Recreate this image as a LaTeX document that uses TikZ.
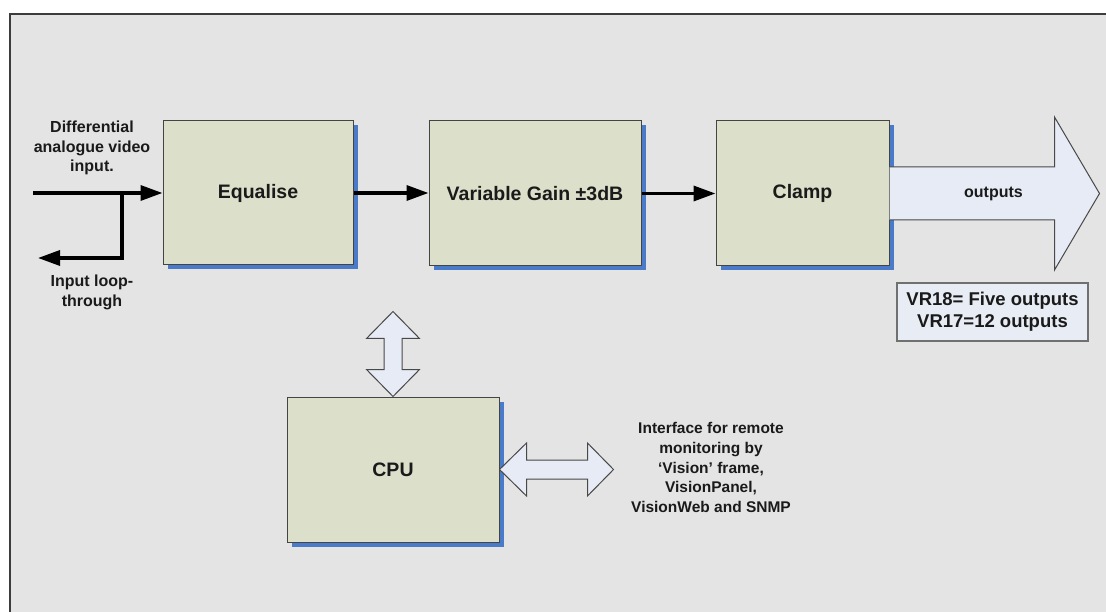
\documentclass[tikz,border=0pt]{standalone}
\usepackage{fontspec}
\setmainfont{Liberation Sans}
\usetikzlibrary{arrows.meta,shadows}
\definecolor{panel}{HTML}{E4E4E4}
\definecolor{frameline}{HTML}{3C3C3C}
\definecolor{blockfill}{HTML}{DCDFCA}
\definecolor{blockline}{HTML}{444444}
\definecolor{shadowblue}{HTML}{4A7BC9}
\definecolor{busfill}{HTML}{E6EBF5}
\definecolor{busline}{HTML}{484848}
\definecolor{notefill}{HTML}{E8ECF4}
\definecolor{noteline}{HTML}{707070}
\definecolor{ink}{HTML}{1A1A1A}
\begin{document}
\begin{tikzpicture}[x=1pt,y=-1pt,
  block/.style={draw=blockline, line width=1pt, fill=blockfill, inner sep=0pt,
    text=ink, font=\fontsize{19.5}{23}\selectfont\bfseries,
    general shadow={fill=shadowblue, shadow xshift=4.5pt, shadow yshift=-4.5pt}},
  conn/.style={line width=3.4pt, line join=miter, draw=black,
    -{Triangle[length=22pt,width=15pt]}},
  bus/.style={draw=busline, line width=1pt, fill=busfill, line join=miter},
  lbl/.style={text=ink, font=\fontsize{16}{19.5}\selectfont\bfseries, align=center, inner sep=0pt},
  note/.style={draw=noteline, line width=1.3pt, fill=notefill, inner sep=0pt,
    text=ink, font=\fontsize{18.5}{22}\selectfont\bfseries, align=center}
]
% page and grey panel
\useasboundingbox (0,0) rectangle (1106,612);
\fill[white] (0,0) rectangle (1106,612);
\fill[panel] (10,14) rectangle (1106,612);
\draw[frameline, line width=1.2pt] (1106,14) -- (10,14) -- (10,612);

% processing blocks
\node[block, minimum width=190pt, minimum height=144pt] (eq)    at (258,193)   {Equalise};
\node[block, minimum width=212pt, minimum height=145pt] (gain)  at (535,193.5) {Variable Gain ±3dB};
\node[block, minimum width=173pt, minimum height=145pt] (clamp) at (802.5,193.5) {Clamp};
\node[block, minimum width=212pt, minimum height=145pt] (cpu)   at (393,469.5) {CPU};

% signal path
\coordinate (inp)  at (33,193);
\coordinate (tap)  at (122,193);
\coordinate (loop) at (38,258);
\draw[conn] (inp) -- (eq.west);
\draw[conn] (tap) |- (loop);
\draw[conn] (eq.east) -- (gain.west |- eq.east);
\draw[conn] (gain.east) -- (clamp.west);

% output bus arrow
\filldraw[bus] (clamp.east) ++(0,-26.5) -- ++(165,0) -- ++(0,-50) -- ++(45,76.5)
  -- ++(-45,76.5) -- ++(0,-50) -- ++(-165,0);
\node[lbl] (outlbl) at ([xshift=104pt]clamp.east) {outputs};

% control buses of the CPU
\filldraw[bus] (cpu.north) -- ++(-26.5,-27) -- ++(17.5,0) -- ++(0,-31) -- ++(-17.5,0)
  -- ++(26.5,-27) -- ++(26.5,27) -- ++(-17.5,0) -- ++(0,31) -- ++(17.5,0) -- cycle;
\filldraw[bus] (cpu.east) -- ++(27,-26.5) -- ++(0,17) -- ++(61,0) -- ++(0,-17)
  -- ++(26,26.5) -- ++(-26,26.5) -- ++(0,-17) -- ++(-61,0) -- ++(0,17) -- cycle;

% annotations
\node[lbl] (inlbl)   at (92,148)   {Differential\\analogue video\\input.};
\node[lbl] (looplbl) at (92,292.5) {Input loop-\\through};
\node[lbl, font=\fontsize{15.5}{19.7}\selectfont\bfseries] (iface) at (711,467.5)
  {Interface for remote\\monitoring by\\‘Vision’ frame,\\VisionPanel,\\VisionWeb and SNMP};
\node[note, minimum width=191pt, minimum height=58pt] (variants) at (992.5,312)
  {VR18= Five outputs\\VR17=12 outputs};
\end{tikzpicture}
\end{document}
